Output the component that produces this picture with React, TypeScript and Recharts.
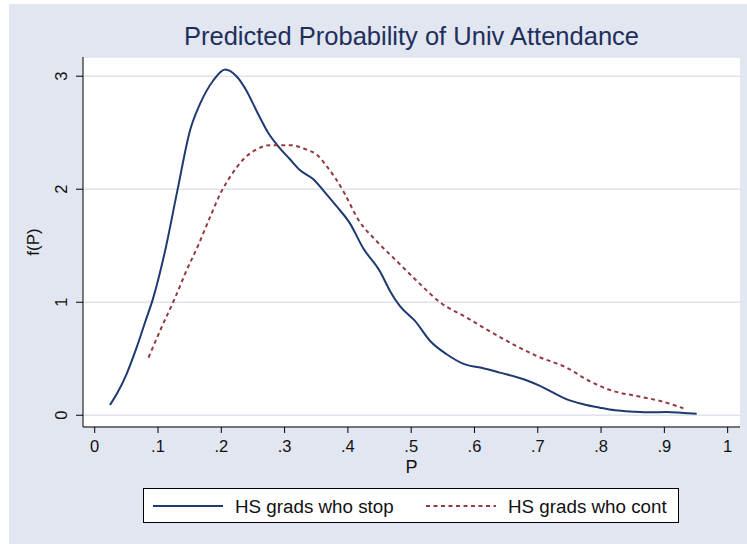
import { LineChart, Line, XAxis, YAxis, CartesianGrid, Legend } from "recharts";

// kernel density of predicted P, HS grads who stop vs. who continue
const stopP = [
  0.024, 0.035, 0.05, 0.065, 0.08, 0.092, 0.111, 0.1305, 0.1506, 0.166, 0.187, 0.206, 0.224, 0.24, 0.256,
  0.274, 0.29, 0.3085, 0.324, 0.345, 0.364, 0.382, 0.403, 0.424, 0.451, 0.4665, 0.482, 0.506, 0.53, 0.556,
  0.585, 0.611, 0.64, 0.682, 0.7035, 0.7245, 0.746, 0.772, 0.798, 0.822, 0.851, 0.877, 0.904, 0.93, 0.951,
];
const stopDensity = [
  0.09, 0.19, 0.36, 0.58, 0.83, 1.03, 1.45, 1.985, 2.52, 2.75, 2.96, 3.06, 3.0, 2.87, 2.69,
  2.5, 2.38, 2.265, 2.17, 2.09, 1.97, 1.85, 1.7, 1.48, 1.27, 1.1, 0.967, 0.835, 0.657, 0.54,
  0.45, 0.42, 0.377, 0.31, 0.26, 0.2, 0.14, 0.097, 0.067, 0.044, 0.032, 0.026, 0.029, 0.02, 0.014,
];

const contP = [
  0.085, 0.105, 0.127, 0.145, 0.164, 0.182, 0.2006, 0.2164, 0.235, 0.256, 0.277, 0.3085, 0.335, 0.352,
  0.367, 0.38, 0.395, 0.4165, 0.4455, 0.477, 0.5087, 0.5455, 0.5877, 0.619, 0.661, 0.698, 0.746, 0.7825,
  0.819, 0.856, 0.893, 0.93,
];
const contDensity = [
  0.51, 0.77, 1.04, 1.28, 1.51, 1.75, 1.985, 2.13, 2.265, 2.354, 2.39, 2.39, 2.35, 2.3,
  2.2, 2.1, 1.96, 1.73, 1.54, 1.365, 1.19, 1.0, 0.864, 0.76, 0.628, 0.525, 0.42, 0.3,
  0.215, 0.17, 0.127, 0.062,
];

const pTicks = [0, 0.1, 0.2, 0.3, 0.4, 0.5, 0.6, 0.7, 0.8, 0.9, 1];
const fTicks = [0, 1, 2, 3];

const seriesNames = ["HS grads who stop", "HS grads who cont"];

const stopData = stopP.map((p, i) => ({ p, f: stopDensity[i] }));
const contData = contP.map((p, i) => ({ p, f: contDensity[i] }));

const FONT = '"Liberation Sans", Arial, Helvetica, sans-serif';
const BG = "#e1e6f0";
const NAVY = "#1e3a70";
const MAROON = "#933a40";
const TITLE = "#1f2f5c";

const fmtP = (v: number) => (v === 0 ? "0" : v === 1 ? "1" : "." + Math.round(v * 10));

function XTick({ x, y, payload }: any) {
  return (
    <text x={x} y={y + 16.5} textAnchor="middle" fontSize={16.5} fill="#111" fontFamily={FONT}>
      {fmtP(payload.value)}
    </text>
  );
}

function YTick({ x, y, payload }: any) {
  return (
    <text
      transform={`translate(${x - 7},${y}) rotate(-90)`}
      textAnchor="middle"
      fontSize={16.5}
      fill="#111"
      fontFamily={FONT}
    >
      {payload.value}
    </text>
  );
}

function LegendBox({ payload }: any) {
  const slots = [9, 282];
  // keep the legend in series order
  const items = [...(payload || [])].sort(
    (a: any, b: any) => seriesNames.indexOf(a.value) - seriesNames.indexOf(b.value)
  );
  return (
    <div style={{ width: 536, height: 35, boxSizing: "border-box", border: "1px solid #000", background: "#fff" }}>
      <svg width={534} height={33} style={{ display: "block" }}>
        {items.map((entry: any, i: number) => {
          const x0 = slots[i] ?? 9;
          const dash = entry.payload?.strokeDasharray;
          return (
            <g key={i}>
              <line x1={x0} x2={x0 + 70} y1={17} y2={17} stroke={entry.color} strokeWidth={2} strokeDasharray={dash} />
              <text x={x0 + 82} y={24} fontSize={18.8} fill="#111" fontFamily={FONT}>
                {entry.value}
              </text>
            </g>
          );
        })}
      </svg>
    </div>
  );
}

export default function App() {
  return (
    <div style={{ position: "absolute", left: 0, top: 0, width: 747, height: 544, background: "#fff", fontFamily: FONT }}>
      <div style={{ position: "absolute", left: 9, top: 4, right: 0, bottom: 0, background: BG }} />
      <div style={{ position: "absolute", left: 0, top: 0 }}>
        <LineChart width={747} height={544} margin={{ top: 57, right: 7, bottom: 87, left: 0 }}>
          <CartesianGrid vertical={false} fill="#ffffff" fillOpacity={1} stroke="#dfe4ec" strokeWidth={1.5} />
          <XAxis
            dataKey="p"
            type="number"
            domain={[-0.0185, 1.0195]}
            ticks={pTicks}
            allowDataOverflow
            height={30}
            tickSize={6}
            tickMargin={2}
            tick={<XTick />}
            axisLine={{ stroke: "#000", strokeWidth: 1 }}
            tickLine={{ stroke: "#000", strokeWidth: 1 }}
          />
          <YAxis
            type="number"
            domain={[-0.104, 3.17]}
            ticks={fTicks}
            allowDataOverflow
            width={83}
            tickSize={7}
            tickMargin={2}
            tick={<YTick />}
            axisLine={{ stroke: "#000", strokeWidth: 1 }}
            tickLine={{ stroke: "#000", strokeWidth: 1 }}
          />
          <Line
            data={stopData}
            dataKey="f"
            name={seriesNames[0]}
            type="monotone"
            stroke={NAVY}
            strokeWidth={2}
            dot={false}
            isAnimationActive={false}
          />
          <Line
            data={contData}
            dataKey="f"
            name={seriesNames[1]}
            type="monotone"
            stroke={MAROON}
            strokeWidth={2}
            strokeDasharray="4 3.5"
            dot={false}
            isAnimationActive={false}
          />
          <Legend
            layout="horizontal"
            verticalAlign="middle"
            align="center"
            wrapperStyle={{ left: 143, top: 488, width: 536, height: 35 }}
            content={<LegendBox />}
          />
        </LineChart>
      </div>
      <svg width={747} height={544} style={{ position: "absolute", left: 0, top: 0, pointerEvents: "none" }}>
        <text x={411.5} y={45} textAnchor="middle" fontSize={25.5} fill={TITLE} fontFamily={FONT}>
          Predicted Probability of Univ Attendance
        </text>
        <text transform="translate(39,242) rotate(-90)" textAnchor="middle" fontSize={17} fill="#111" fontFamily={FONT}>
          f(P)
        </text>
        <text x={411.5} y={473} textAnchor="middle" fontSize={18} fill="#111" fontFamily={FONT}>
          P
        </text>
      </svg>
    </div>
  );
}
